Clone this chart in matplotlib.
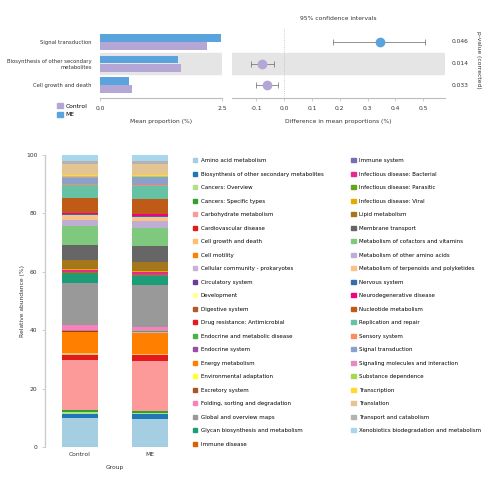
import matplotlib
matplotlib.use("Agg")
import matplotlib.pyplot as plt
from matplotlib.patches import Patch
import numpy as np

# ---------------- data ----------------
groups = ["Control", "ME"]
group_colors = ["#b4a7d6", "#5ba3dc"]

# extended error bar (top)
feat_labels = ["Signal transduction", "Biosynthesis of other secondary\nmetabolites", "Cell growth and death"]
mean_control = [2.19, 1.67, 0.66]
mean_me = [2.47, 1.60, 0.59]
diff = [0.345, -0.08, -0.063]
ci_low = [0.177, -0.12, -0.10]
ci_high = [0.506, -0.035, -0.02]
p_values = ["0.046", "0.014", "0.033"]
diff_ticks = [-0.1, 0.0, 0.1, 0.2, 0.3, 0.4, 0.5]

# stacked relative abundance (bottom)
pathways = [
    "Amino acid metabolism", "Biosynthesis of other secondary metabolites", "Cancers: Overview",
    "Cancers: Specific types", "Carbohydrate metabolism", "Cardiovascular disease",
    "Cell growth and death", "Cell motility", "Cellular community - prokaryotes",
    "Circulatory system", "Development", "Digestive system", "Drug resistance: Antimicrobial",
    "Endocrine and metabolic disease", "Endocrine system", "Energy metabolism",
    "Environmental adaptation", "Excretory system", "Folding, sorting and degradation",
    "Global and overview maps", "Glycan biosynthesis and metabolism", "Immune disease",
    "Immune system", "Infectious disease: Bacterial", "Infectious disease: Parasitic",
    "Infectious disease: Viral", "Lipid metabolism", "Membrane transport",
    "Metabolism of cofactors and vitamins", "Metabolism of other amino acids",
    "Metabolism of terpenoids and polyketides", "Nervous system", "Neurodegenerative disease",
    "Nucleotide metabolism", "Replication and repair", "Sensory system", "Signal transduction",
    "Signaling molecules and interaction", "Substance dependence", "Transcription",
    "Translation", "Transport and catabolism", "Xenobiotics biodegradation and metabolism",
]
pathway_colors = [
    "#a6cee3", "#1f78b4", "#b2df8a", "#33a02c", "#fb9a99", "#e31a1c", "#fdbf6f", "#ff7f00",
    "#cab2d6", "#6a3d9a", "#ffff99", "#b15928",
    "#e41a1c", "#4daf4a", "#984ea3", "#ff7f00", "#ffff33", "#a65628", "#f781bf", "#999999",
    "#1b9e77", "#d95f02", "#7570b3", "#e7298a", "#66a61e", "#e6ab02", "#a6761d", "#666666",
    "#7fc97f", "#beaed4", "#fdc086", "#386cb0", "#f0027f", "#bf5b17",
    "#66c2a5", "#fc8d62", "#8da0cb", "#e78ac3", "#a6d854", "#ffd92f", "#e5c494", "#b3b3b3",
    "#a9d6ef",
]
abund_control = [
    9.8, 1.67, 0.4, 0.7, 17.1, 1.7, 0.66, 7.4, 0.1, 0.05, 0.05, 0.05, 0.1, 0.05, 0.05, 0.1,
    0.05, 0.05, 1.7, 14.3, 3.4, 0.3, 0.2, 0.6, 0.1, 0.3, 3.0, 5.3, 6.3, 2.3, 1.7, 0.3, 0.4,
    4.9, 4.6, 0.3, 2.2, 0.3, 0.2, 0.4, 3.8, 1.12, 1.9,
]
abund_me = [
    9.6, 1.60, 0.4, 0.6, 17.3, 1.9, 0.59, 7.2, 0.1, 0.05, 0.05, 0.05, 0.1, 0.05, 0.05, 0.1,
    0.05, 0.05, 1.3, 14.26, 3.0, 0.6, 0.2, 0.7, 0.1, 0.3, 3.0, 5.4, 6.4, 2.2, 1.6, 0.3, 0.6,
    5.1, 4.6, 0.3, 2.5, 0.3, 0.2, 0.4, 3.8, 1.1, 1.9,
]

# ---------------- figure ----------------
W = H = 500
fig = plt.figure(figsize=(5, 5), dpi=100)
plt.rcParams["font.family"] = ["DejaVu Sans"]
txtc = "#333333"
spc = "#bbbbbb"

def ax_px(l, t, r, b):
    return fig.add_axes([l / W, 1 - b / H, (r - l) / W, (b - t) / H])

fs = 4.3

# --- top left: mean proportion bars
axL = ax_px(100, 28, 222, 98)
ypos = np.arange(len(feat_labels))
axL.axhspan(0.5, 1.5, color="#e5e5e5", zorder=0)
h = 0.36
axL.barh(ypos - 0.19, mean_me, height=h, color=group_colors[1], zorder=2)
axL.barh(ypos + 0.19, mean_control, height=h, color=group_colors[0], zorder=2)
axL.set_ylim(2.6, -0.65)
axL.set_xlim(0, 2.5)
axL.set_xticks([0, 2.5])
axL.set_xticklabels(["0.0", "2.5"])
axL.set_yticks(ypos)
axL.set_yticklabels(feat_labels, fontsize=3.8, color=txtc)
axL.tick_params(axis="y", length=0, pad=6)
axL.tick_params(axis="x", labelsize=fs, colors=txtc, length=2, color=spc, width=0.5)
for s in ["top", "right", "left"]:
    axL.spines[s].set_visible(False)
axL.spines["bottom"].set_color(spc)
axL.spines["bottom"].set_linewidth(0.8)
axL.set_xlabel("Mean proportion (%)", fontsize=fs, color=txtc, labelpad=6)

# --- top right: difference with CI
axR = ax_px(232, 28, 445, 98)
axR.axhspan(0.5, 1.5, color="#e5e5e5", zorder=0)
axR.axvline(0, color="#bbbbbb", lw=0.6, ls=":", zorder=1)
for i in range(len(diff)):
    c = group_colors[1] if diff[i] > 0 else group_colors[0]
    axR.errorbar(diff[i], ypos[i], xerr=[[diff[i] - ci_low[i]], [ci_high[i] - diff[i]]],
                 fmt="o", color="#555555", ecolor="#666666", elinewidth=0.5, capsize=2,
                 capthick=0.5, markersize=6, markerfacecolor=c, markeredgecolor=c, zorder=3)
axR.set_ylim(2.6, -0.65)
axR.set_xlim(-0.187, 0.578)
axR.set_xticks(diff_ticks)
axR.set_xticklabels([f"{t:.1f}" for t in diff_ticks])
axR.set_yticks([])
axR.tick_params(axis="x", labelsize=fs, colors=txtc, length=2, color=spc, width=0.5)
for s in ["top", "right", "left"]:
    axR.spines[s].set_visible(False)
axR.spines["bottom"].set_color(spc)
axR.spines["bottom"].set_linewidth(0.8)
axR.set_xlabel("Difference in mean proportions (%)", fontsize=fs, color=txtc, labelpad=6)
axR.set_title("95% confidence intervals", fontsize=fs, color=txtc, pad=6)
for i, p in enumerate(p_values):
    axR.text(1.07, ypos[i], p, transform=axR.get_yaxis_transform(), fontsize=fs,
             color=txtc, ha="center", va="center")
fig.text(478 / W, 1 - 60 / H, "p-value (corrected)", rotation=270, fontsize=fs,
         color=txtc, ha="center", va="center")

# top legend
fig.legend(handles=[Patch(color=group_colors[0], label=groups[0]),
                    Patch(color=group_colors[1], label=groups[1])],
           loc="upper left", bbox_to_anchor=(52 / W, 1 - 98 / H), frameon=False,
           fontsize=fs, handlelength=0.9, handleheight=0.9, labelspacing=0.5,
           handletextpad=0.5)

# --- bottom: stacked bars
axB = ax_px(45, 155, 185, 447)
xs = np.arange(len(groups))
bottoms = np.zeros(len(groups))
for name, col, vc, vm in zip(pathways, pathway_colors, abund_control, abund_me):
    vals = np.array([vc, vm])
    axB.bar(xs, vals, bottom=bottoms, width=0.52, color=col, linewidth=0, label=name)
    bottoms += vals
axB.set_xlim(-0.5, 1.5)
axB.set_ylim(0, 100)
axB.set_xticks(xs)
axB.set_xticklabels(groups)
axB.set_yticks([0, 20, 40, 60, 80, 100])
axB.tick_params(axis="both", labelsize=fs, colors=txtc, color=spc, width=0.5, length=2)
axB.tick_params(axis="x", length=0)
for s in ["top", "right", "bottom"]:
    axB.spines[s].set_visible(False)
axB.spines["left"].set_color("#cccccc")
axB.spines["left"].set_linewidth(1.0)
axB.set_ylabel("Relative abundance (%)", fontsize=fs, color=txtc, labelpad=1)
axB.set_xlabel("Group", fontsize=fs, color=txtc, labelpad=6)

handles = [Patch(color=c, label=n) for n, c in zip(pathways, pathway_colors)]
fig.legend(handles=handles, loc="upper left", bbox_to_anchor=(188 / W, 1 - 153 / H),
           ncol=2, frameon=False, fontsize=4.0, handlelength=0.8, handleheight=0.8,
           labelspacing=1.52, handletextpad=0.6, columnspacing=5.0)

fig.savefig("out.png", dpi=100, facecolor="white")
